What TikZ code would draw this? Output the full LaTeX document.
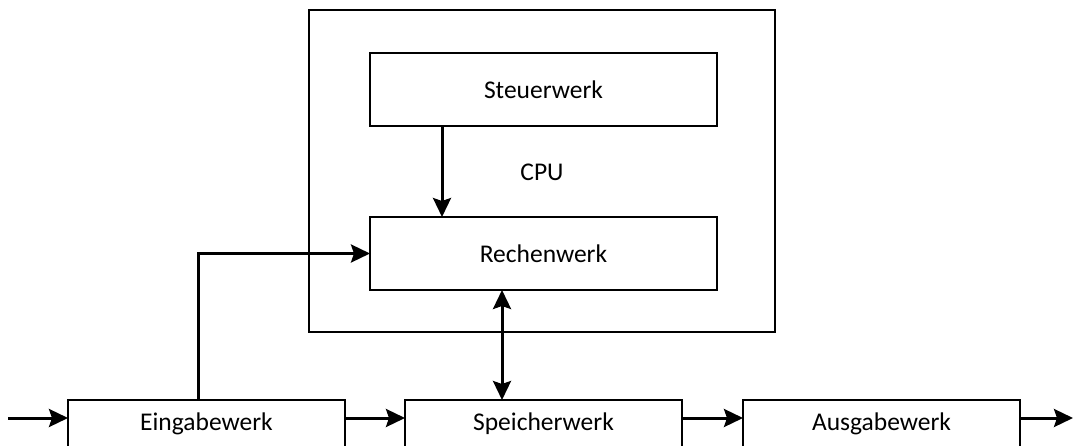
\documentclass[tikz,border=0pt]{standalone}
\usepackage{fontspec}
\setmainfont{Carlito}
\usetikzlibrary{arrows.meta}
\begin{document}
\begin{tikzpicture}[x=1pt,y=1pt,
  box/.style={draw, line width=1.3pt, inner sep=0pt, outer sep=0pt, minimum width=347pt, font=\fontsize{25.5}{30}\selectfont},
  lowbox/.style={box, minimum width=277pt, minimum height=48pt},
  conn/.style={line width=3pt, -{Stealth[length=19pt,width=18pt,inset=3pt]}},
  biconn/.style={line width=3pt, {Stealth[length=19pt,width=18pt,inset=3pt]}-{Stealth[length=19pt,width=18pt,inset=3pt]}}]
\clip (0,0) rectangle (1073,445);
\fill[white] (0,0) rectangle (1073,445);
\node[draw, line width=1.3pt, inner sep=0pt, minimum width=466pt, minimum height=322pt] (cpu) at (542,274) {};
\node[font=\fontsize{25.5}{30}\selectfont] (cpulabel) at (542,273) {CPU};
\node[box, minimum height=73pt] (steuer) at (543.5,355.5) {Steuerwerk};
\node[box, minimum height=73pt] (rechen) at (543.5,191.5) {Rechenwerk};
\node[lowbox] (ein) at (206.5,21) {Eingabewerk};
\node[lowbox] (speicher) at (543.5,21) {Speicherwerk};
\node[lowbox] (aus) at (881.5,21) {Ausgabewerk};
\coordinate (in) at (8,27);
\coordinate (out) at (1073,27);
\draw[conn] (in) -- ([yshift=6pt]ein.west);
\draw[conn] ([yshift=6pt]ein.east) -- ([yshift=6pt]speicher.west);
\draw[conn] ([yshift=6pt]speicher.east) -- ([yshift=6pt]aus.west);
\draw[conn] ([yshift=6pt]aus.east) -- (out);
\draw[conn] ([xshift=-101.5pt]steuer.south) -- ([xshift=-101.5pt]rechen.north);
\draw[biconn] ([xshift=-41.5pt]rechen.south) -- ([xshift=-41.5pt]speicher.north);
\draw[conn] ([xshift=-8.5pt]ein.north) |- (rechen.west);
\end{tikzpicture}
\end{document}
